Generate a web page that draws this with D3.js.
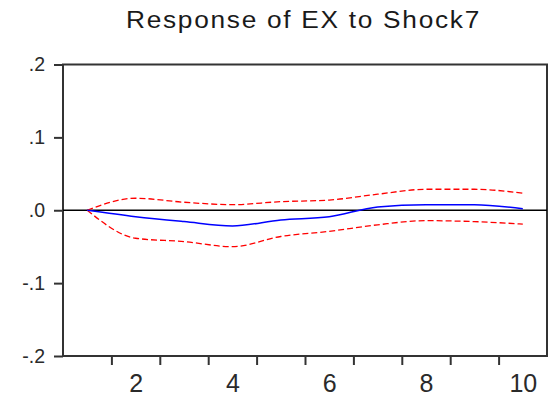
<!DOCTYPE html>
<html lang="en"><head><meta charset="utf-8">
<title>Response of EX to Shock7</title>
<script src="https://cdnjs.cloudflare.com/ajax/libs/d3/7.8.5/d3.min.js"></script>
<style>
  body { margin: 0; background: #fff; }
  .chart-title { font-family: "Liberation Sans", Arial, sans-serif; font-size: 23px; letter-spacing: 1.5px; fill: #1a1a1a; }
  .tick text { font-family: "Liberation Sans", Arial, sans-serif; fill: #2a2a2a; }
  .y-axis .tick text { font-size: 19.5px; }
  .x-labels .tick text { font-size: 25px; }
</style>
</head>
<body>
<svg class="chart" width="555" height="401"></svg>
<script>
// periods 1..10
var periods = [1, 2, 3, 4, 5, 6, 7, 8, 9, 10]
var response = [0, -0.0088, -0.0156, -0.0215, -0.0133, -0.0088, 0.0045, 0.0077, 0.0077, 0.0022]
var upperBand = [0, 0.0165, 0.011, 0.0077, 0.0118, 0.014, 0.022, 0.0288, 0.0288, 0.0233]
var lowerBand = [0, -0.0384, -0.043, -0.05, -0.036, -0.029, -0.020, -0.0143, -0.0156, -0.019]
var yTicks = [-0.2, -0.1, 0, 0.1, 0.2]
var yTickLabels = ["-.2", "-.1", ".0", ".1", ".2"]
var xLabels = [2, 4, 6, 8, 10]

var plotLeft = 63, plotRight = 547, plotTop = 64.5, plotBottom = 356

var svg = d3.select('.chart')

var x = d3.scaleLinear().domain([0.5, 10.5]).range([plotLeft, plotRight])
var y = d3.scaleLinear().domain([-0.2, 0.2]).range([plotBottom, plotTop])

svg.append("text")
  .attr("class", "chart-title")
  .attr("x", 126)
  .attr("y", 28)
  .attr("textLength", 355)
  .attr("lengthAdjust", "spacingAndGlyphs")
  .text("Response of EX to Shock7")

// y axis
var yAxis = svg.append("g")
  .attr("class", "y-axis")
  .attr("transform", "translate(" + plotLeft + ",0)")
  .call(d3.axisLeft(y).tickValues(yTicks).tickSize(9).tickPadding(9)
    .tickFormat(function(d, i) { return yTickLabels[i] }))
yAxis.select(".domain").remove()
yAxis.selectAll(".tick line").attr("stroke", "#333").attr("stroke-width", 2)

// x axis: tick marks on period boundaries, labels at period centres
var boundaries = d3.range(1.5, 10.5, 1)
var xAxis = svg.append("g")
  .attr("transform", "translate(0," + plotBottom + ")")
  .call(d3.axisBottom(x).tickValues(boundaries).tickSize(9).tickFormat(""))
xAxis.select(".domain").remove()
xAxis.selectAll(".tick line").attr("stroke", "#333").attr("stroke-width", 2)

var xLab = svg.append("g")
  .attr("class", "x-labels")
  .attr("transform", "translate(0," + plotBottom + ")")
  .call(d3.axisBottom(x).tickValues(xLabels).tickSize(0).tickPadding(18))
xLab.select(".domain").remove()

// frame
svg.append("rect")
  .attr("x", plotLeft)
  .attr("y", plotTop)
  .attr("width", plotRight - plotLeft)
  .attr("height", plotBottom - plotTop)
  .attr("fill", "none")
  .attr("stroke", "#333")
  .attr("stroke-width", 2)

// zero line
svg.append("line")
  .attr("x1", plotLeft).attr("x2", plotRight)
  .attr("y1", y(0)).attr("y2", y(0))
  .attr("stroke", "#000")
  .attr("stroke-width", 1.5)

var line = d3.line()
  .x(function(d, i) { return x(periods[i]) })
  .y(function(d) { return y(d) })
  .curve(d3.curveMonotoneX)

svg.append("path")
  .datum(upperBand)
  .attr("d", line)
  .attr("fill", "none")
  .attr("stroke", "#ff0000")
  .attr("stroke-width", 1.3)
  .attr("stroke-dasharray", "6,3")

svg.append("path")
  .datum(lowerBand)
  .attr("d", line)
  .attr("fill", "none")
  .attr("stroke", "#ff0000")
  .attr("stroke-width", 1.3)
  .attr("stroke-dasharray", "6,3")

svg.append("path")
  .datum(response)
  .attr("d", line)
  .attr("fill", "none")
  .attr("stroke", "#0000ff")
  .attr("stroke-width", 1.5)
</script>
</body></html>
